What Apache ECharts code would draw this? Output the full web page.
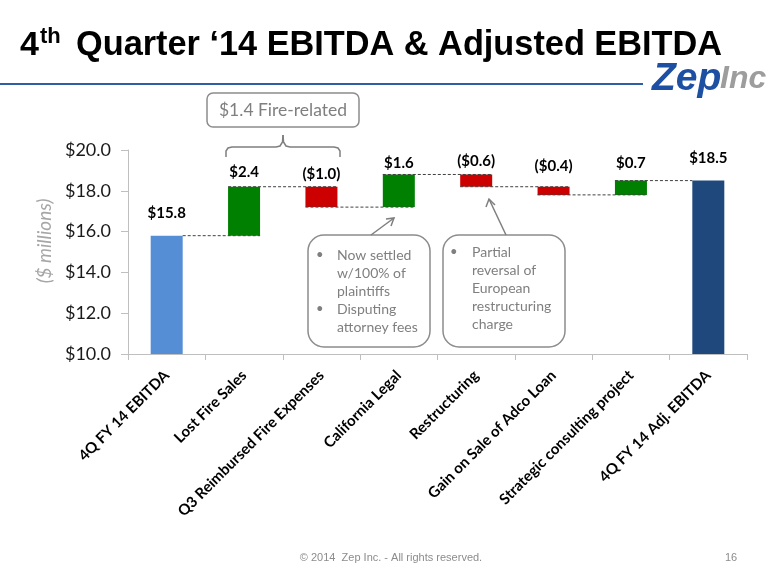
<!DOCTYPE html>
<html>
<head>
<meta charset="utf-8">
<script src="https://cdn.jsdelivr.net/npm/echarts@6/dist/echarts.min.js"></script>
<style>
html,body{margin:0;padding:0;background:#fff;}
#c{width:780px;height:585px;}
</style>
</head>
<body>
<div id="c"></div>
<script>
// ---- data ----
const categories = ['4Q FY 14 EBITDA','Lost Fire Sales','Q3 Reimbursed Fire Expenses','California Legal','Restructuring','Gain on Sale of Adco Loan','Strategic consulting project','4Q FY 14 Adj. EBITDA'];
const changes = [15.8, 2.4, -1.0, 1.6, -0.6, -0.4, 0.7, 18.5];
const isTotal = [true, false, false, false, false, false, false, true];
const valueLabels = ['$15.8','$2.4','($1.0)','$1.6','($0.6)','($0.4)','$0.7','$18.5'];
const yTicks = [10, 12, 14, 16, 18, 20];

// ---- styles ----
const labelGap = [15, 7, 5, 4, 6, 13, 10, 15];
const colors = { start:'#558ed5', up:'#008000', down:'#cc0000', end:'#1f497d' };
const BAR_W = 32;

// ---- derived waterfall values ----
const base = [], height = [], ends = [];
let run = 0;
changes.forEach((v, i) => {
  if (isTotal[i]) { base.push(0); height.push(v); run = v; }
  else { const s = run, e = run + v; base.push(Math.min(s, e)); height.push(Math.abs(v)); run = e; }
  ends.push(+run.toFixed(2));
});
const barData = height.map((h, i) => {
  let c;
  if (i === 0) c = colors.start; else if (i === changes.length - 1) c = colors.end;
  else c = changes[i] >= 0 ? colors.up : colors.down;
  return { value: h, itemStyle: { color: c }, label: { distance: labelGap[i] } };
});
const connectors = [];
for (let i = 0; i < changes.length - 1; i++) connectors.push([i, ends[i]]);

const greyText = '#7f7f7f';
const chart = echarts.init(document.getElementById('c'), null, { renderer: 'canvas' });
chart.setOption({
  backgroundColor: '#ffffff',
  animation: false,
  grid: { left: 128, right: 33, top: 150, bottom: 231, containLabel: false },
  xAxis: {
    type: 'category', data: categories,
    axisLine: { lineStyle: { color: '#bfbfbf', width: 1 } },
    axisTick: { show: true, interval: 0, alignWithLabel: false, length: 6, lineStyle: { color: '#bfbfbf' } },
    axisLabel: { interval: 0, rotate: 45, margin: 19, fontFamily: 'Lato', fontWeight: 'bold', fontSize: 15, color: '#000' }
  },
  yAxis: {
    type: 'value', min: yTicks[0], max: yTicks[yTicks.length - 1], interval: 2,
    name: '($ millions)', nameLocation: 'middle', nameGap: 71,
    nameTextStyle: { fontFamily: 'Lato', fontStyle: 'italic', fontSize: 19, color: '#a6a6a6', padding: [0, 0, 0, 22] },
    axisLine: { show: true, lineStyle: { color: '#bfbfbf', width: 1 } },
    axisTick: { show: true, length: 7, lineStyle: { color: '#bfbfbf' } },
    splitLine: { show: false },
    axisLabel: { margin: 17, fontFamily: 'Lato', fontSize: 18, color: '#1a1a1a', formatter: v => '$' + v.toFixed(1) }
  },
  series: [
    { type: 'bar', stack: 'w', barWidth: BAR_W, silent: true, itemStyle: { color: 'transparent' }, data: base },
    { type: 'bar', stack: 'w', barWidth: BAR_W, data: barData,
      label: { show: true, position: 'top', fontFamily: 'Lato', fontWeight: 'bold', fontSize: 15, color: '#000',
               formatter: p => valueLabels[p.dataIndex] } },
    { type: 'custom', data: connectors, z: 5, clip: false, silent: true,
      encode: { x: 0, y: 1 },
      renderItem: (params, api) => {
        const i = api.value(0), lvl = api.value(1);
        const p1 = api.coord([i, lvl]), p2 = api.coord([i + 1, lvl]);
        const hw = BAR_W / 2;
        const x1 = isTotal[i] ? p1[0] + hw : p1[0] - hw;
        const x2 = isTotal[i + 1] ? p2[0] - hw : p2[0] + hw;
        return { type: 'line', shape: { x1: x1, y1: p1[1], x2: x2, y2: p1[1] },
                 style: { stroke: '#404040', lineWidth: 1, lineDash: [3, 2] } };
      } }
  ],
  graphic: [
    // title
    { type: 'text', style: { x: 20, y: 46, text: '4', font: 'bold 34px "Liberation Sans", Arial', fill: '#000', verticalAlign: 'middle' } },
    { type: 'text', style: { x: 40, y: 37, text: 'th', font: 'bold 22px "Liberation Sans", Arial', fill: '#000', verticalAlign: 'middle' } },
    { type: 'text', style: { x: 76, y: 46, text: 'Quarter \u201814 EBITDA & Adjusted EBITDA', font: 'bold 34.3px "Liberation Sans", Arial', fill: '#000', verticalAlign: 'middle' } },
    // header rule + logo
    { type: 'line', shape: { x1: 0, y1: 84, x2: 643, y2: 84 }, style: { stroke: '#2e5ea6', lineWidth: 2 } },
    { type: 'text', style: { x: 652, y: 79, text: 'Zep', font: 'italic bold 39px "Liberation Sans", Arial', fill: '#1d50a2', verticalAlign: 'middle' } },
    { type: 'text', style: { x: 720, y: 79, text: 'Inc', font: 'italic bold 32px "Liberation Sans", Arial', fill: '#9d9d9d', verticalAlign: 'middle' } },
    // fire-related box + brace
    { type: 'rect', shape: { x: 207, y: 93, width: 152, height: 34, r: 6 }, style: { fill: '#fff', stroke: '#8c8c8c', lineWidth: 1.5 } },
    { type: 'text', style: { x: 283, y: 110, text: '$1.4 Fire-related', font: '17.5px Lato', fill: greyText, align: 'center', verticalAlign: 'middle' } },
    { type: 'polyline', shape: { points: [[226, 157], [226, 151], [228, 148], [232, 147], [276, 147], [280, 146], [282.5, 142], [283, 135]] },
      style: { fill: 'none', stroke: '#7f7f7f', lineWidth: 1.5 } },
    { type: 'polyline', shape: { points: [[340, 157], [340, 151], [338, 148], [334, 147], [290, 147], [286, 146], [283.5, 142], [283, 135]] },
      style: { fill: 'none', stroke: '#7f7f7f', lineWidth: 1.5 } },
    // callout 1
    { type: 'rect', shape: { x: 308, y: 235, width: 122, height: 112, r: 16 }, style: { fill: '#fff', stroke: '#8c8c8c', lineWidth: 1.5 } },
    { type: 'text', style: { x: 316, y: 255, text: '\u2022', font: '13px Lato', fill: greyText, verticalAlign: 'middle' } },
    { type: 'text', style: { x: 316, y: 309, text: '\u2022', font: '13px Lato', fill: greyText, verticalAlign: 'middle' } },
    { type: 'text', style: { x: 337, y: 246, text: 'Now settled\nw/100% of\nplaintiffs\nDisputing\nattorney fees', font: '14px Lato', lineHeight: 18, fill: greyText, verticalAlign: 'top' } },
    { type: 'line', shape: { x1: 371, y1: 235, x2: 394, y2: 218 }, style: { stroke: '#7f7f7f', lineWidth: 1.5 } },
    { type: 'polyline', shape: { points: [[386, 219], [394, 218], [391, 226]] }, style: { fill: 'none', stroke: '#7f7f7f', lineWidth: 1.5 } },
    // callout 2
    { type: 'rect', shape: { x: 443, y: 235, width: 122, height: 112, r: 16 }, style: { fill: '#fff', stroke: '#8c8c8c', lineWidth: 1.5 } },
    { type: 'text', style: { x: 450, y: 252, text: '\u2022', font: '13px Lato', fill: greyText, verticalAlign: 'middle' } },
    { type: 'text', style: { x: 472, y: 243, text: 'Partial\nreversal of\nEuropean\nrestructuring\ncharge', font: '14px Lato', lineHeight: 18, fill: greyText, verticalAlign: 'top' } },
    { type: 'line', shape: { x1: 506, y1: 235, x2: 489, y2: 199 }, style: { stroke: '#7f7f7f', lineWidth: 1.5 } },
    { type: 'polyline', shape: { points: [[486, 207], [489, 199], [495, 205]] }, style: { fill: 'none', stroke: '#7f7f7f', lineWidth: 1.5 } },
    // footer
    { type: 'text', style: { x: 391, y: 558, text: '\u00a9 2014  Zep Inc. - All rights reserved.', font: '11px "Liberation Sans", Arial', fill: '#8c8c8c', align: 'center', verticalAlign: 'middle' } },
    { type: 'text', style: { x: 731, y: 558, text: '16', font: '11px "Liberation Sans", Arial', fill: '#8c8c8c', align: 'center', verticalAlign: 'middle' } }
  ]
});
</script>
</body>
</html>
